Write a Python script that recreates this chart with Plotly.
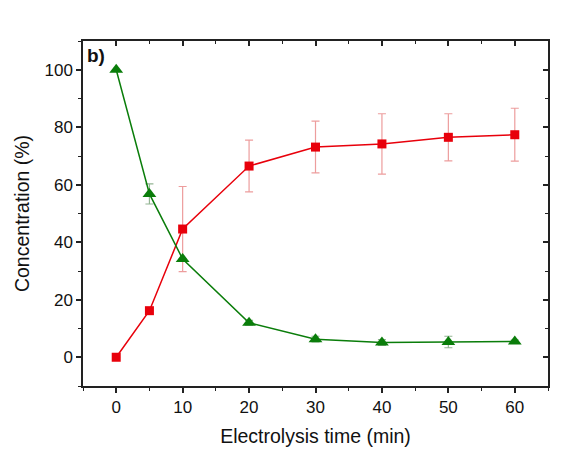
import plotly.graph_objects as go

time_min = [0, 5, 10, 20, 30, 40, 50, 60]
red_conc = [0, 16.2, 44.6, 66.5, 73.1, 74.2, 76.5, 77.4]
red_err = [0, 0, 14.8, 9.0, 9.0, 10.5, 8.2, 9.2]
green_conc = [100, 56.8, 34.2, 12.0, 6.3, 5.1, 5.3, 5.5]
green_err = [0, 3.5, 0, 0.8, 1.0, 1.0, 2.0, 0.5]

x_ticks = [0, 10, 20, 30, 40, 50, 60]
y_ticks = [0, 20, 40, 60, 80, 100]

RED = "#e8000b"
GREEN = "#0a7d0a"
FONT = "Liberation Sans, Arial, sans-serif"

fig = go.Figure()
fig.add_trace(go.Scatter(
    x=time_min, y=red_conc, mode="lines+markers",
    line=dict(color=RED, width=1.5),
    marker=dict(symbol="square", size=9, color=RED),
    error_y=dict(type="data", array=red_err, color="rgba(220,60,60,0.5)", thickness=1.2, width=4),
    showlegend=False,
))
fig.add_trace(go.Scatter(
    x=time_min, y=green_conc, mode="lines+markers",
    line=dict(color=GREEN, width=1.5),
    marker=dict(symbol="triangle-up", size=12, color=GREEN),
    error_y=dict(type="data", array=green_err, color="rgba(60,120,60,0.55)", thickness=1.2, width=4),
    showlegend=False,
))
# invisible trace to activate mirror axes (top/right)
fig.add_trace(go.Scatter(x=[time_min[0]], y=[green_conc[0]], xaxis="x2", yaxis="y2",
                         mode="markers", marker=dict(opacity=0), showlegend=False, hoverinfo="skip"))

axis_common = dict(showline=True, linecolor="#222", linewidth=1.5, showgrid=False, zeroline=False,
                   tickcolor="#222", tickwidth=1.5)

fig.update_layout(
    width=577, height=468,
    margin=dict(l=83, r=29, t=41, b=82),
    paper_bgcolor="white", plot_bgcolor="white",
    font=dict(family=FONT, color="#111"),
    xaxis=dict(range=[-5, 65], tickvals=x_ticks, ticks="outside", ticklen=5,
               minor=dict(dtick=5, tick0=-5, ticks="outside", ticklen=3, tickcolor="#222", tickwidth=1.2),
               tickfont=dict(size=17), title=dict(text="Electrolysis time (min)", font=dict(size=19.5), standoff=13),
               **axis_common),
    yaxis=dict(range=[-10, 110], tickvals=y_ticks, ticks="outside", ticklen=5,
               minor=dict(dtick=10, tick0=-10, ticks="outside", ticklen=3, tickcolor="#222", tickwidth=1.2),
               tickfont=dict(size=17), title=dict(text="Concentration (%)", font=dict(size=19.5), standoff=10),
               **axis_common),
    xaxis2=dict(range=[-5, 65], overlaying="x", side="top", tickvals=x_ticks, ticks="inside", ticklen=5,
                minor=dict(dtick=5, tick0=-5, ticks="inside", ticklen=3, tickcolor="#222", tickwidth=1.2),
                showticklabels=False, **axis_common),
    yaxis2=dict(range=[-10, 110], overlaying="y", side="right", tickvals=y_ticks, ticks="inside", ticklen=5,
                minor=dict(dtick=10, tick0=-10, ticks="inside", ticklen=3, tickcolor="#222", tickwidth=1.2),
                showticklabels=False, **axis_common),
    annotations=[dict(text="<b>b)</b>", xref="paper", yref="paper", x=0.005, y=0.995,
                      xanchor="left", yanchor="top", showarrow=False, font=dict(size=19, color="#111"))],
)

fig.write_html("out.html")
